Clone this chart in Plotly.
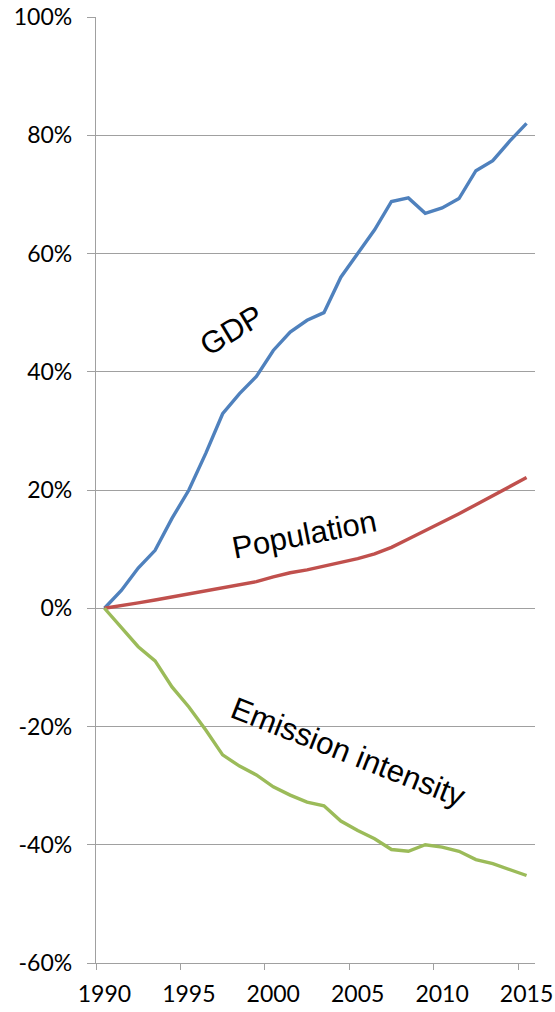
import plotly.graph_objects as go

years = list(range(1990, 2016))
gdp = [0, 3.0, 6.8, 9.8, 15.2, 20.0, 26.2, 32.9, 36.3, 39.2, 43.6, 46.7, 48.7, 50.0,
       56.0, 60.0, 64.0, 68.8, 69.4, 66.8, 67.7, 69.3, 74.0, 75.7, 79.0, 82.0]
population = [0, 0.4, 0.9, 1.4, 1.9, 2.4, 2.9, 3.4, 3.9, 4.5, 5.3, 6.0, 6.5, 7.1,
              7.7, 8.4, 9.2, 10.3, 11.7, 13.1, 14.6, 16.0, 17.5, 19.0, 20.6, 22.1]
emission = [0, -3.2, -6.5, -8.9, -13.3, -16.7, -20.6, -24.8, -26.7, -28.2, -30.2, -31.6,
            -32.8, -33.4, -36.0, -37.6, -39.0, -40.8, -41.1, -40.0, -40.4, -41.1, -42.5,
            -43.2, -44.2, -45.2]
series_names = ["GDP", "Population", "Emission intensity"]
series_colors = ["#4F81BD", "#C0504D", "#9BBB59"]
x_tick_labels = ["1990", "1995", "2000", "2005", "2010", "2015"]
y_ticks = [-60, -40, -20, 0, 20, 40, 60, 80, 100]

fig = go.Figure()
for name, vals, col in zip(series_names, [gdp, population, emission], series_colors):
    fig.add_trace(go.Scatter(x=years, y=vals, mode="lines", name=name,
                             line=dict(color=col, width=3.4), showlegend=False))

labels = [
    dict(text="GDP", x=1997.52, y=47.0, textangle=-31),
    dict(text="Population", x=2001.85, y=12.5, textangle=-11),
    dict(text="Emission intensity", x=2004.46, y=-24.4, textangle=21.5),
]
for a in labels:
    fig.add_annotation(x=a["x"], y=a["y"], text=a["text"], textangle=a["textangle"],
                       showarrow=False, xref="x", yref="y",
                       font=dict(family="Liberation Sans, Arial", size=31, color="black"))

grid = "#A0A0A0"
fig.update_layout(
    width=555, height=1012,
    margin=dict(l=96, r=20, t=17, b=49, autoexpand=False),
    paper_bgcolor="white", plot_bgcolor="white",
    font=dict(family="Lato, Carlito, Calibri, sans-serif", size=23, color="black"),
    xaxis=dict(range=[1989.5, 2015.5], tickmode="array", automargin=False,
               tickvals=[int(t) for t in x_tick_labels], ticktext=x_tick_labels,
               ticks="", showgrid=False, showline=True, linecolor=grid, linewidth=1.3,
               zeroline=False, ticklabelstandoff=10,
               minor=dict(tickmode="array", tickvals=[1989.5, 1994.5, 1999.5, 2004.5, 2009.5, 2014.5],
                          ticks="outside", ticklen=6, tickcolor=grid, tickwidth=1.3, showgrid=False)),
    yaxis=dict(range=[-60, 100], tickmode="array", tickvals=y_ticks, automargin=False,
               ticktext=[f"{v}%" for v in y_ticks],
               ticks="outside", ticklen=8, tickcolor=grid, tickwidth=1.3,
               showgrid=True, gridcolor=grid, gridwidth=1.3,
               showline=True, linecolor=grid, linewidth=1.3, zeroline=False,
               ticklabelstandoff=10),
)
fig.write_html("out.html", config={"displayModeBar": False},
               post_script="document.body.style.margin='0';")
